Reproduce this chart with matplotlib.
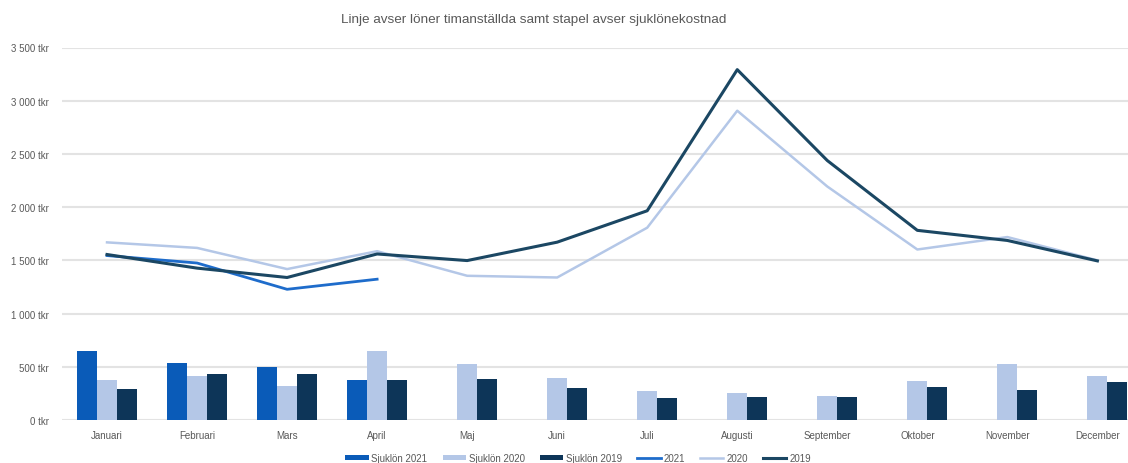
import matplotlib
matplotlib.use("Agg")
import matplotlib.pyplot as plt
import numpy as np

months = ["Januari", "Februari", "Mars", "April", "Maj", "Juni", "Juli",
          "Augusti", "September", "Oktober", "November", "December"]

# Sjuklönekostnad (tkr), bars
sjuklon_2021 = [648, 538, 494, 373, np.nan, np.nan, np.nan, np.nan, np.nan, np.nan, np.nan, np.nan]
sjuklon_2020 = [373, 411, 316, 648, 525, 393, 274, 258, 230, 371, 522, 409]
sjuklon_2019 = [288, 430, 430, 373, 389, 299, 204, 220, 220, 314, 286, 355]

# Löner timanställda (tkr), lines
loner_2021 = [1545, 1475, 1228, 1323, np.nan, np.nan, np.nan, np.nan, np.nan, np.nan, np.nan, np.nan]
loner_2020 = [1669, 1617, 1418, 1586, 1355, 1339, 1807, 2906, 2194, 1602, 1719, 1500]
loner_2019 = [1555, 1427, 1339, 1560, 1498, 1671, 1966, 3292, 2438, 1782, 1687, 1495]

yticks = [0, 500, 1000, 1500, 2000, 2500, 3000, 3500]
ytick_labels = ["0 tkr", "500 tkr", "1 000 tkr", "1 500 tkr", "2 000 tkr",
                "2 500 tkr", "3 000 tkr", "3 500 tkr"]

c21_bar, c20_bar, c19_bar = "#0A5BB8", "#B4C7E7", "#0D3558"
c21_line, c20_line, c19_line = "#1E6CCB", "#B4C7E7", "#1B4763"
text_col = "#595959"
plt.rcParams["font.family"] = ["Liberation Sans", "DejaVu Sans"]

fig = plt.figure(figsize=(11.28, 4.64), dpi=100)
ax = fig.add_axes([62 / 1128, 1 - 421 / 464, 1066 / 1128, (421 - 48.5) / 464])

x = np.arange(len(months))
w = 0.222
b21 = ax.bar(x - w, sjuklon_2021, w, color=c21_bar, label="Sjuklön 2021", zorder=2)
b20 = ax.bar(x, sjuklon_2020, w, color=c20_bar, label="Sjuklön 2020", zorder=2)
b19 = ax.bar(x + w, sjuklon_2019, w, color=c19_bar, label="Sjuklön 2019", zorder=2)

l21, = ax.plot(x, loner_2021, color=c21_line, lw=2.0, label="2021", zorder=3)
l20, = ax.plot(x, loner_2020, color=c20_line, lw=1.8, label="2020", zorder=3)
l19, = ax.plot(x, loner_2019, color=c19_line, lw=2.2, label="2019", zorder=4)

ax.set_xlim(-0.5, 11.34)
ax.set_ylim(0, 3500)
ax.set_yticks(yticks)
ax.set_yticklabels(ytick_labels)
ax.set_xticks(x)
ax.set_xticklabels(months)
ax.grid(axis="y", color="#E3E3E3", lw=1.5, zorder=0)
for s in ax.spines.values():
    s.set_visible(False)
ax.tick_params(axis="y", length=0, pad=9.5, labelsize=7, labelcolor=text_col)
ax.tick_params(axis="x", length=0, pad=7, labelsize=7, labelcolor=text_col)

fig.text(534 / 1128, 1 - 20 / 464, "Linje avser löner timanställda samt stapel avser sjuklönekostnad",
         ha="center", va="center", fontsize=9.7, color=text_col)

handles = [b21, b20, b19, l21, l20, l19]
labels = [h.get_label() for h in handles]
leg = fig.legend(handles, labels, loc="center", bbox_to_anchor=(578 / 1128, 1 - 459 / 464), ncol=6,
                 frameon=False, fontsize=7, handlelength=2.4, handleheight=0.45,
                 columnspacing=1.55, handletextpad=0.3)
for t in leg.get_texts():
    t.set_color(text_col)

fig.savefig("out.png", dpi=100, facecolor="white")
